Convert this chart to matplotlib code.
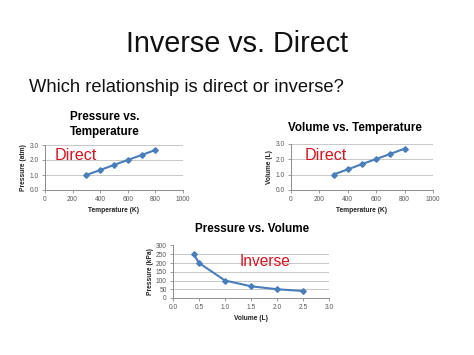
import matplotlib
matplotlib.use("Agg")
import matplotlib.pyplot as plt

plt.rcParams['font.family'] = ['Liberation Sans', 'DejaVu Sans']

# Data
temp_k = [300, 400, 500, 600, 700, 800]
pressure_atm = [1.0, 1.33, 1.67, 2.0, 2.33, 2.67]
volume_l = [1.0, 1.33, 1.67, 2.0, 2.33, 2.67]
pv_volume = [0.4, 0.5, 1.0, 1.5, 2.0, 2.5]
pv_pressure = [250, 200, 100, 67, 50, 40]

temp_ticks = [0, 200, 400, 600, 800, 1000]
direct_yticks = [0.0, 1.0, 2.0, 3.0]
vol_ticks = [0.0, 0.5, 1.0, 1.5, 2.0, 2.5, 3.0]
kpa_ticks = [0, 50, 100, 150, 200, 250, 300]

W, H = 474, 355
fig = plt.figure(figsize=(W / 100, H / 100), dpi=100)
fig.patch.set_facecolor('white')

BLUE = '#4a7ebb'
RED = '#d4151f'
GRID = '#c8c8c8'
SPINE = '#8c8c8c'
TICKC = '#595959'


def px_axes(x0, x1, ytop, ybot):
    return fig.add_axes([x0 / W, (H - ybot) / H, (x1 - x0) / W, (ybot - ytop) / H])


def ftext(x, y, s, **kw):
    fig.text(x / W, (H - y) / H, s, **kw)


def style(ax, xticks, yticks, xfmt, yfmt, xlabel, ylabel, xpad, ypad):
    ax.set_xlim(xticks[0], xticks[-1])
    ax.set_ylim(yticks[0], yticks[-1])
    ax.set_xticks(xticks)
    ax.set_yticks(yticks)
    ax.set_xticklabels([xfmt(v) for v in xticks])
    ax.set_yticklabels([yfmt(v) for v in yticks])
    for s in ['top', 'right']:
        ax.spines[s].set_visible(False)
    for s in ['left', 'bottom']:
        ax.spines[s].set_color(SPINE)
        ax.spines[s].set_linewidth(0.7)
    ax.tick_params(axis='both', labelsize=4.8, colors=SPINE, labelcolor=TICKC,
                   length=2, width=0.6, pad=2.5)
    ax.yaxis.grid(True, color=GRID, linewidth=0.7)
    ax.set_axisbelow(True)
    ax.set_xlabel(xlabel, fontsize=4.8, fontweight='bold', color='#222222', labelpad=xpad)
    ax.set_ylabel(ylabel, fontsize=4.8, fontweight='bold', color='#222222', labelpad=ypad)


# Main titles
ftext(237, 44, 'Inverse vs. Direct', fontsize=20.7, ha='center', va='center', color='#111111')
ftext(29, 88, 'Which relationship is direct or inverse?', fontsize=13.2, ha='left',
      va='center', color='#111111')

# Chart 1
ax1 = px_axes(45, 183, 145, 190)
ax1.plot(temp_k, pressure_atm, color=BLUE, lw=1.5, marker='D', ms=2.8, zorder=3)
style(ax1, temp_ticks, direct_yticks, lambda v: f'{v:d}', lambda v: f'{v:.1f}',
      'Temperature (K)', 'Pressure (atm)', 3, 2)
ftext(105, 117, 'Pressure vs.', fontsize=8.4, fontweight='bold', ha='center', va='center')
ftext(105, 132, 'Temperature', fontsize=8.4, fontweight='bold', ha='center', va='center')
ftext(55, 156, 'Direct', fontsize=11.6, color=RED, ha='left', va='center')

# Chart 2
ax2 = px_axes(291, 433, 143.5, 190)
ax2.plot(temp_k, volume_l, color=BLUE, lw=1.5, marker='D', ms=2.8, zorder=3)
style(ax2, temp_ticks, direct_yticks, lambda v: f'{v:d}', lambda v: f'{v:.1f}',
      'Temperature (K)', 'Volume (L)', 3, 2)
ftext(355, 128, 'Volume vs. Temperature', fontsize=8.4, fontweight='bold', ha='center', va='center')
ftext(305, 156, 'Direct', fontsize=11.6, color=RED, ha='left', va='center')

# Chart 3
ax3 = px_axes(173, 329, 245.5, 298)
ax3.plot(pv_volume, pv_pressure, color=BLUE, lw=1.5, marker='D', ms=2.8, zorder=3)
style(ax3, vol_ticks, kpa_ticks, lambda v: f'{v:.1f}', lambda v: f'{v:d}',
      'Volume (L)', 'Pressure (kPa)', 3, 1)
ftext(252, 229, 'Pressure vs. Volume', fontsize=8.4, fontweight='bold', ha='center', va='center')
ftext(240, 262, 'Inverse', fontsize=11.2, color=RED, ha='left', va='center')

fig.savefig('out.png', dpi=100, facecolor='white')
